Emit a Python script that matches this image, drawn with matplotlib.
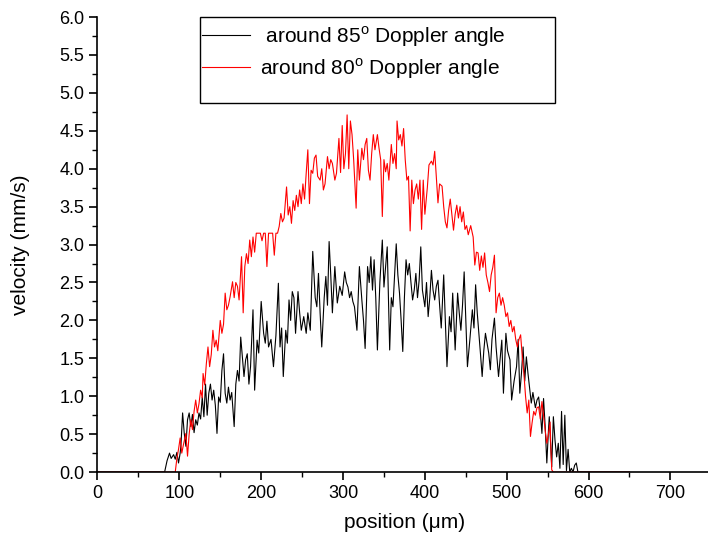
import matplotlib
matplotlib.use('Agg')
import matplotlib.pyplot as plt
from matplotlib.patches import Rectangle
from matplotlib.ticker import MultipleLocator

plt.rcParams['font.family'] = ['Liberation Sans', 'DejaVu Sans']
plt.rcParams['mathtext.fontset'] = 'custom'
plt.rcParams['mathtext.rm'] = 'Liberation Sans'

# around 85 deg Doppler angle (black)
black_pos = [0, 82, 85, 88, 90, 93, 95, 97, 99, 101,
             102, 104, 106, 108, 110, 112, 114, 116, 118, 120,
             122, 124, 126, 128, 130, 132, 134, 136, 138, 140,
             142, 144, 146, 148, 150, 152, 154, 156, 158, 160,
             162, 164, 167, 169, 171, 173, 175, 177, 179, 181,
             183, 185, 187, 190, 192, 195, 197, 200, 203, 205,
             207, 209, 212, 215, 218, 221, 223, 225, 227, 230,
             232, 234, 236, 238, 240, 242, 245, 247, 249, 252,
             255, 257, 260, 263, 266, 268, 270, 272, 274, 277,
             279, 281, 283, 285, 287, 290, 293, 296, 299, 302,
             304, 306, 308, 310, 312, 314, 317, 320, 323, 325,
             327, 330, 332, 334, 336, 338, 340, 342, 345, 348,
             350, 352, 354, 357, 359, 361, 363, 365, 367, 369,
             371, 373, 375, 377, 379, 381, 383, 385, 387, 389,
             391, 393, 395, 397, 400, 402, 404, 406, 408, 410,
             412, 414, 416, 418, 420, 423, 425, 427, 430, 432,
             434, 437, 440, 442, 444, 446, 448, 450, 452, 455,
             458, 460, 462, 464, 466, 468, 470, 472, 474, 476,
             478, 480, 482, 485, 487, 490, 492, 494, 496, 499,
             501, 504, 506, 509, 512, 514, 516, 518, 520, 522,
             524, 526, 528, 530, 532, 535, 537, 539, 541, 543,
             545, 547, 549, 551, 552, 554, 555, 557, 559, 561,
             563, 565, 567, 569, 571, 573, 575, 577, 579, 581,
             583, 585, 587, 590, 650]
black_vel = [0, 0, 0.15, 0.25, 0.18, 0.23, 0.17, 0.26, 0.12, 0.25,
             0.36, 0.78, 0.51, 0.34, 0.69, 0.78, 0.6, 0.76, 0.52, 0.69,
             0.62, 0.78, 0.7, 0.99, 0.73, 1.16, 0.75, 1.04, 1.16, 0.95,
             1.08, 0.88, 0.51, 0.99, 0.92, 1.34, 1.56, 1.04, 0.91, 1.12,
             0.95, 1.05, 0.6, 1.16, 1.34, 1.2, 1.78, 1.52, 1.26, 1.48,
             1.56, 1.16, 1.39, 2.14, 1.08, 1.74, 1.57, 2.25, 1.83, 1.7,
             1.99, 1.65, 1.75, 1.39, 1.8, 2.49, 1.65, 1.9, 1.26, 1.87,
             1.7, 2.27, 2.0, 2.38, 2.3, 1.83, 2.38, 2.1, 1.87, 2.05,
             1.83, 2.1, 1.87, 2.91, 2.3, 2.18, 2.62, 2.1, 1.65, 2.3,
             2.58, 2.2, 3.04, 2.6, 2.1, 2.71, 2.23, 2.45, 2.33, 2.64,
             2.5, 2.44, 2.3, 2.38, 2.25, 2.18, 1.87, 2.71, 2.27, 2.0,
             1.63, 2.71, 2.5, 2.84, 2.4, 2.8, 2.3, 1.61, 2.5, 3.06,
             2.44, 2.7, 2.97, 1.61, 2.3, 2.18, 2.6, 3.01, 2.6, 2.36,
             2.0, 1.59, 2.3, 2.8, 2.6, 2.75, 2.5, 2.27, 2.4, 2.62,
             2.3, 2.53, 2.97, 2.4, 2.18, 2.5, 2.05, 2.3, 2.66, 2.4,
             2.27, 2.45, 2.53, 2.2, 1.9, 2.6, 2.0, 1.39, 2.05, 1.85,
             2.36, 1.61, 2.36, 2.1, 1.87, 2.2, 2.64, 2.0, 1.39, 1.75,
             2.14, 1.9, 2.47, 2.1, 1.83, 1.55, 1.26, 1.6, 1.83, 1.7,
             1.57, 1.35, 1.75, 2.03, 1.65, 1.26, 1.5, 1.74, 1.04, 1.83,
             1.6, 1.48, 0.95, 1.2, 1.39, 1.75, 1.04, 1.3, 1.65, 1.2,
             1.52, 1.3, 1.1, 0.91, 1.05, 0.85, 0.95, 0.99, 0.8, 0.51,
             0.97, 0.6, 0.12, 0.55, 0.73, 0.3, 0.07, 0.73, 0.42, 0.2,
             0.38, 0.05, 0.8, 0.1, 0.75, 0.02, 0.3, 0.0, 0.05, 0.0,
             0.09, 0.12, 0.0, 0, 0]

# around 80 deg Doppler angle (red)
red_pos = [0, 95, 97, 99, 101, 103, 105, 108, 110, 112,
           114, 116, 118, 120, 122, 124, 126, 128, 129, 131,
           133, 135, 137, 139, 141, 143, 145, 147, 150, 152,
           154, 156, 158, 160, 162, 165, 167, 169, 171, 173,
           176, 178, 180, 182, 184, 186, 188, 190, 192, 194,
           196, 199, 201, 203, 205, 207, 209, 212, 214, 216,
           218, 220, 222, 224, 226, 228, 231, 233, 235, 237,
           239, 241, 243, 245, 247, 249, 251, 253, 255, 257,
           259, 261, 263, 265, 267, 269, 272, 274, 276, 278,
           281, 283, 285, 287, 290, 292, 295, 297, 299, 301,
           303, 305, 307, 309, 311, 313, 316, 318, 320, 323,
           325, 327, 329, 331, 333, 335, 337, 339, 342, 344,
           346, 348, 350, 352, 354, 356, 359, 361, 363, 365,
           366, 368, 370, 372, 374, 376, 378, 380, 382, 384,
           386, 388, 390, 392, 394, 396, 398, 400, 403, 405,
           408, 410, 412, 414, 416, 418, 421, 423, 425, 427,
           429, 431, 433, 435, 437, 439, 441, 443, 445, 447,
           449, 451, 453, 456, 459, 461, 463, 465, 467, 469,
           471, 473, 475, 477, 479, 481, 483, 485, 487, 489,
           491, 493, 495, 497, 499, 501, 503, 505, 507, 509,
           511, 513, 515, 517, 519, 521, 523, 525, 527, 529,
           531, 533, 535, 537, 539, 541, 543, 545, 547, 549,
           551, 553, 554, 555, 557, 650]
red_vel = [0, 0, 0.18, 0.3, 0.45, 0.25, 0.36, 0.51, 0.21, 0.5,
           0.69, 0.56, 0.8, 0.95, 0.78, 0.9, 1.08, 0.98, 1.3, 1.15,
           1.43, 1.65, 1.39, 1.55, 1.87, 1.65, 1.74, 1.6, 2.0, 1.83,
           1.95, 2.36, 2.14, 2.2, 2.31, 2.51, 2.3, 2.5, 2.45, 2.27,
           2.84, 2.1, 2.71, 2.88, 2.75, 3.06, 2.84, 3.1, 2.9, 3.15,
           3.15, 3.15, 3.05, 3.15, 3.15, 2.71, 3.15, 3.15, 3.15, 2.86,
           3.15, 3.15, 3.24, 3.41, 3.3, 3.35, 3.76, 3.39, 3.5, 3.28,
           3.58, 3.45, 3.65, 3.5, 3.72, 3.54, 3.8, 3.6, 3.94, 4.25,
           3.54, 3.98, 3.94, 4.14, 4.18, 3.9, 3.85, 4.0, 3.72, 3.8,
           4.16, 4.0, 4.12, 4.07, 3.85, 3.94, 4.4, 3.95, 4.57, 4.0,
           4.2, 4.71, 4.0, 4.63, 4.45, 4.12, 3.48, 4.25, 3.85, 4.27,
           4.12, 4.32, 4.4, 3.98, 3.85, 4.2, 4.45, 4.25, 4.45, 4.27,
           4.12, 3.37, 4.12, 3.96, 4.07, 3.85, 4.32, 4.07, 4.2, 4.0,
           4.63, 4.38, 4.45, 4.3, 4.53, 4.12, 3.85, 3.9, 3.18, 3.85,
           3.54, 3.72, 3.8, 3.6, 3.85, 3.2, 3.85, 3.4, 3.75, 4.05,
           4.1, 4.05, 4.23, 3.9, 3.55, 3.8, 3.77, 3.5, 3.3, 3.22,
           3.45, 3.6, 3.4, 3.19, 3.4, 3.52, 3.35, 3.5, 3.3, 3.43,
           3.2, 3.25, 3.13, 3.25, 3.1, 2.73, 2.9, 2.89, 2.66, 2.85,
           2.7, 2.89, 2.6, 2.5, 2.38, 2.6, 2.7, 2.86, 2.1, 2.3,
           2.36, 2.2, 2.3, 2.2, 2.05, 2.1, 1.92, 2.0, 1.85, 1.92,
           1.75, 1.65, 1.75, 1.81, 1.52, 1.3, 1.0, 0.78, 0.95, 0.47,
           0.65, 0.8, 0.75, 0.85, 0.86, 0.7, 0.93, 0.75, 0.55, 0.38,
           0.5, 0.66, 0.3, 0.03, 0, 0]

fig = plt.figure(figsize=(7.08, 5.42), dpi=100)
ax = fig.add_axes([0.1377, 0.129, 0.867, 0.8395])

ax.plot(black_pos, black_vel, color='black', linewidth=0.8,
        label=r' around 85$^{\rm o}$ Doppler angle')
ax.plot(red_pos, red_vel, color='red', linewidth=0.8,
        label=r'around 80$^{\rm o}$ Doppler angle')

ax.set_xlim(0, 750)
ax.set_ylim(0, 6.0)
ax.xaxis.set_major_locator(MultipleLocator(100))
ax.xaxis.set_minor_locator(MultipleLocator(50))
ax.yaxis.set_major_locator(MultipleLocator(0.5))
ax.yaxis.set_minor_locator(MultipleLocator(0.25))
ax.yaxis.set_major_formatter(matplotlib.ticker.FormatStrFormatter('%.1f'))

for s in ['top', 'right']:
    ax.spines[s].set_visible(False)
for s in ['left', 'bottom']:
    ax.spines[s].set_linewidth(1.2)
ax.tick_params(which='major', direction='out', length=6, width=1.2, labelsize=13)
ax.tick_params(which='minor', direction='out', length=3.5, width=1.0)
ax.set_xlabel('position (μm)', fontsize=15, labelpad=8)
ax.set_ylabel('velocity (mm/s)', fontsize=15, labelpad=21)

leg = ax.legend(loc='upper left', bbox_to_anchor=(202 / 708, 1 - 24 / 542),
                bbox_transform=fig.transFigure, frameon=False, fontsize=15,
                handlelength=2.3, handletextpad=0.5, labelspacing=0.35,
                borderaxespad=0, borderpad=0)
fig.patches.append(Rectangle((200 / 708, 1 - 103 / 542), 355 / 708, 86 / 542,
                             transform=fig.transFigure, fill=False,
                             edgecolor='black', linewidth=1.0))

fig.savefig('out.png', dpi=100)
